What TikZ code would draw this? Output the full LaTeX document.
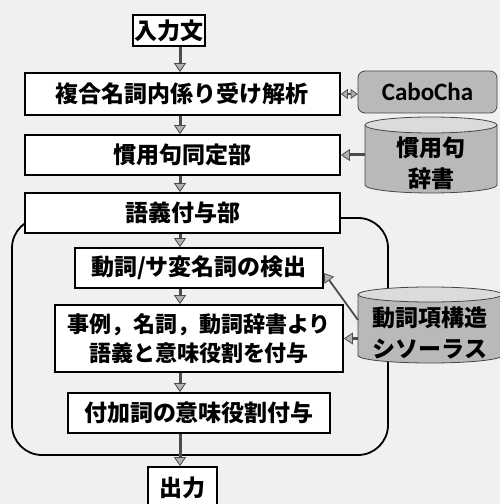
\documentclass[tikz,border=0pt]{standalone}
\usepackage{fontspec}
\newfontfamily\jp{Noto Sans CJK JP}
\newfontfamily\lat{Carlito}
\usetikzlibrary{arrows.meta}
\begin{document}
\begin{tikzpicture}[x=1pt,y=1pt,
  box/.style={draw=black,line width=1.8pt,fill=white,inner sep=0pt,align=center,
    font=\jp\bfseries\fontsize{23}{28}\selectfont},
  arr/.style={draw=black!70,line width=3pt,
    -{Triangle[length=9pt,width=12pt,fill=gray!60,color=black!70,line width=0.8pt]}},
  darr/.style={draw=black!70,line width=2.6pt,
    {Triangle[length=7pt,width=10pt,fill=gray!60,color=black!70,line width=0.8pt]}-{Triangle[length=7pt,width=10pt,fill=gray!60,color=black!70,line width=0.8pt]}},
  cylbody/.style={fill=gray!55,draw=gray!55!black,line width=0.8pt},
  cyltop/.style={fill=gray!28,draw=gray!55!black,line width=0.8pt},
  cyltext/.style={inner sep=0pt,align=center,text=black,
    font=\jp\bfseries\fontsize{23}{31}\selectfont}
]
\useasboundingbox (0,0) rectangle (500,504);
\clip (0,0) rectangle (500,504);
\fill[gray!12] (0,0) rectangle (500,504);

% group container
\node[draw=black,line width=1.8pt,rounded corners=30,minimum width=376,minimum height=237,inner sep=0pt] (grp) at (200,167.5) {};

% main boxes
\node[box,minimum width=72,minimum height=31] (in) at (169,473.5) {入力文};
\node[box,minimum width=315,minimum height=42] (dep) at (182.5,410) {複合名詞内係り受け解析};
\node[box,minimum width=315,minimum height=40] (idiom) at (182.5,349) {慣用句同定部};
\node[box,minimum width=315,minimum height=40] (sense) at (182.5,291) {語義付与部};
\node[box,minimum width=248,minimum height=40] (detect) at (199,236) {動詞/サ変名詞の検出};
\node[box,minimum width=288,minimum height=67,font=\jp\bfseries\fontsize{22}{29}\selectfont] (assign) at (199,165.5) {事例，名詞，動詞辞書より\\語義と意味役割を付与};
\node[box,minimum width=262,minimum height=40] (adj) at (199,91) {付加詞の意味役割付与};
\node[box,minimum width=69,minimum height=42] (out) at (182.5,16) {\raisebox{2pt}{出力}};

% CaboCha
\node[fill=gray!55,draw=gray!55!black,line width=0.8pt,rounded corners=7,minimum width=139,minimum height=42,inner sep=0pt,
  font=\lat\bfseries\fontsize{25}{28}\selectfont] (cabo) at (427.5,412) {CaboCha};

% cylinder 1
\path[cylbody] (365,379) -- (365,319) arc[start angle=180,end angle=360,x radius=66,y radius=8] -- (497,379);
\draw[cyltop] (431,379) ellipse[x radius=66,y radius=8];
\node[cyltext,minimum width=132,minimum height=60] (dict1) at (431,341) {慣用句\\辞書};

% cylinder 2
\path[cylbody] (358,209.5) -- (358,148.5) arc[start angle=180,end angle=360,x radius=72,y radius=7.5] -- (502,209.5);
\draw[cyltop] (430,209.5) ellipse[x radius=72,y radius=7.5];
\node[cyltext,minimum width=144,minimum height=60] (dict2) at (430,171) {動詞項構造\\シソーラス};

% vertical flow arrows
\coordinate (ax) at (180,0);
\draw[arr] (in.south -| ax) -- (dep.north -| ax);
\draw[arr] (dep.south -| ax) -- (idiom.north -| ax);
\draw[arr] (idiom.south -| ax) -- (sense.north -| ax);
\draw[arr] (sense.south -| ax) -- (detect.north -| ax);
\draw[arr] (detect.south -| ax) -- (assign.north -| ax);
\draw[arr] (assign.south -| ax) -- (adj.north -| ax);
\draw[arr] (adj.south -| ax) -- (out.north -| ax);

% side arrows
\draw[darr] (dep.east) -- (dep.east -| cabo.west);
\draw[arr] (dict1.west |- idiom.east) -- (idiom.east);
\coordinate (d2a) at (358,184);
\coordinate (deta) at (324,231);
\draw[arr,line width=1.8pt] (d2a) -- (deta);
\draw[arr] (dict2.west |- assign.east) -- (assign.east);
\end{tikzpicture}
\end{document}
